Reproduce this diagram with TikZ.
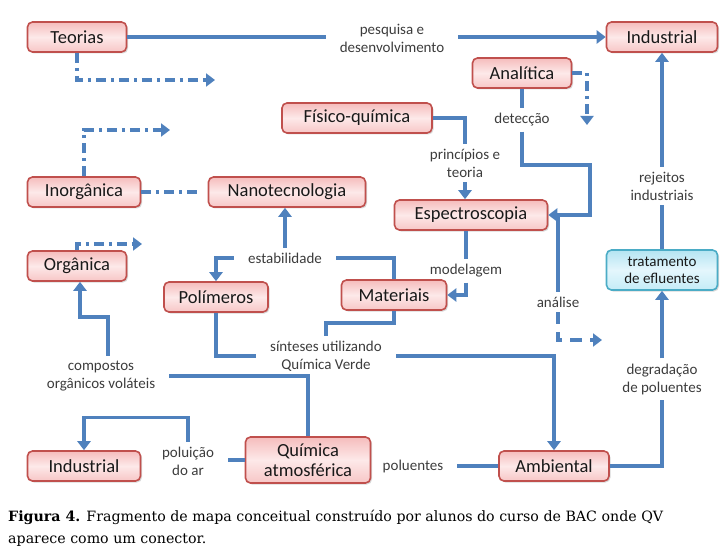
\documentclass[tikz,border=0pt]{standalone}
\usepackage{fontspec}
\setmainfont{Carlito}
\newfontfamily\legendafont{DejaVu Serif}
\usepackage{xcolor}
\usepackage{tikz}
\usetikzlibrary{arrows.meta,shadows}

\definecolor{azul}{RGB}{79,129,189}
\definecolor{bordo}{RGB}{192,80,77}
\definecolor{rosaA}{RGB}{245,188,188}
\definecolor{rosaB}{RGB}{253,233,233}
\definecolor{rosaC}{RGB}{247,198,198}
\definecolor{ciano}{RGB}{75,172,198}
\definecolor{cianoA}{RGB}{180,228,242}
\definecolor{cianoB}{RGB}{228,246,252}
\definecolor{cianoC}{RGB}{196,236,247}
\definecolor{texto}{RGB}{60,60,60}

\begin{document}
\begin{tikzpicture}[x=1pt, y=-1pt,
	conceito/.style={draw=bordo, line width=1.6pt, rounded corners=5pt, top color=rosaA, bottom color=rosaC, middle color=rosaB, minimum height=30pt, inner sep=2pt, align=center, text=black!90, font=\fontsize{18.5}{20}\selectfont, drop shadow={shadow xshift=1.5pt, shadow yshift=-1.5pt, opacity=.3}},
	tratbox/.style={conceito, draw=ciano, top color=cianoA, bottom color=cianoC, middle color=cianoB, minimum height=40pt, font=\fontsize{15}{17}\selectfont},
	rotulo/.style={align=center, inner xsep=14pt, inner ysep=5pt, text=texto, font=\fontsize{15}{18}\selectfont},
	liga/.style={draw=azul, line width=3.5pt},
	seta/.style={liga, -{Triangle[length=9pt,width=13pt]}},
	ponto/.style={liga, dash pattern=on 10pt off 5pt on 3pt off 5pt},
	pontoseta/.style={ponto, -{Triangle[length=9pt,width=13pt]}},
	tracoseta/.style={liga, dash pattern=on 12pt off 8pt, -{Triangle[length=9pt,width=13pt]}}]
	\useasboundingbox (0,0) rectangle (728,556);
	% conceitos
	\node[conceito, minimum width=99pt] (teorias) at (77,37) {Teorias};
	\node[conceito, minimum width=111pt] (indtopo) at (662,37) {Industrial};
	\node[conceito, minimum width=99pt] (analitica) at (522,73) {Analítica};
	\node[conceito, minimum width=150pt] (fisico) at (357,118) {Físico-química};
	\node[conceito, minimum width=113pt] (inorganica) at (84,192) {Inorgânica};
	\node[conceito, minimum width=157pt] (nano) at (287,192) {Nanotecnologia};
	\node[conceito, minimum width=153pt] (espectro) at (471,215) {Espectroscopia};
	\node[conceito, minimum width=99pt] (organica) at (77,266) {Orgânica};
	\node[tratbox, minimum width=111pt] (tratamento) at (662,270) {tratamento\\de efluentes};
	\node[conceito, minimum width=104pt] (polimeros) at (216,297) {Polímeros};
	\node[conceito, minimum width=105pt] (materiais) at (394,295) {Materiais};
	\node[conceito, minimum width=113pt] (indbase) at (84,466) {Industrial};
	\node[conceito, minimum width=125pt, minimum height=46pt] (quimatm) at (308,460) {Química\\atmosférica};
	\node[conceito, minimum width=110pt] (ambiental) at (554,466) {Ambiental};
	% rotulos
	\node[rotulo] (pesquisa) at (392,38) {pesquisa e\\desenvolvimento};
	\node[rotulo] (deteccao) at (522,120) {detecção};
	\node[rotulo] (principios) at (465,163) {princípios e\\teoria};
	\node[rotulo] (estabilidade) at (285,258) {estabilidade};
	\node[rotulo] (modelagem) at (466,271) {modelagem};
	\node[rotulo] (rejeitos) at (662,186) {rejeitos\\industriais};
	\node[rotulo] (analise) at (558,302) {análise};
	\node[rotulo] (sinteses) at (326,356) {sínteses utilizando\\Química Verde};
	\node[rotulo] (compostos) at (101,376) {compostos\\orgânicos voláteis};
	\node[rotulo] (degradacao) at (662,379) {degradação\\de poluentes};
	\node[rotulo] (poluicao) at (188,461) {poluição\\do ar};
	\node[rotulo] (poluentes) at (413,466) {poluentes};
	% pontas soltas
	\coordinate (fimteorias) at (215,80);
	\coordinate (fimanalitica) at (587,125);
	\coordinate (fiminorganica) at (170,130);
	\coordinate (fimorganica) at (142,244);
	\coordinate (fimanalise) at (602,340);
	\coordinate (dobra) at (80,317);
	% ligacoes
	\draw[liga] (teorias.east) -- (pesquisa.west |- teorias.east);
	\draw[seta] (pesquisa.east |- indtopo.west) -- (indtopo.west);
	\draw[pontoseta] (teorias.south) |- (fimteorias);
	\draw[pontoseta] (analitica.east) -| (fimanalitica);
	\draw[liga] (analitica.south) -- (deteccao.north);
	\draw[seta] (deteccao.south) |- (590,165) |- (espectro.east);
	\draw[liga] (fisico.east) -| (principios.north);
	\draw[seta] (principios.south) -- (principios.south |- espectro.north);
	\draw[liga] (modelagem.north |- espectro.south) -- (modelagem.north);
	\draw[seta] (modelagem.south) |- (materiais.east);
	\draw[liga] (espectro.east -| analise.north) -- (analise.north);
	\draw[tracoseta] (analise.south) |- (fimanalise);
	\draw[liga] (materiais.north) |- (estabilidade.east);
	\draw[seta] (estabilidade.west) -| (polimeros.north);
	\draw[seta] (estabilidade.north) -- (estabilidade.north |- nano.south);
	\draw[liga] (polimeros.south) |- (sinteses.west);
	\draw[liga] (materiais.south) -- ++(0,12) -| (sinteses.north);
	\draw[seta] (sinteses.east) -| (ambiental.north);
	\draw[liga] (quimatm.north) |- (compostos.east);
	\draw[seta] ([xshift=7pt]compostos.north) |- (dobra) -- (dobra |- organica.south);
	\draw[liga] (quimatm.west) -- (poluicao.east |- quimatm.west);
	\draw[seta] (poluicao.north) -- ++(0,-24) -| (indbase.north);
	\draw[liga] (poluentes.east) -- (ambiental.west);
	\draw[liga] (ambiental.east) -| (degradacao.south);
	\draw[seta] (degradacao.north) -- (tratamento.south);
	\draw[liga] (tratamento.north) -- (rejeitos.south);
	\draw[seta] (rejeitos.north) -- (indtopo.south);
	\draw[ponto, shorten >=8pt] (inorganica.east) -- (nano.west);
	\draw[pontoseta] (inorganica.north) |- (fiminorganica);
	\draw[pontoseta] (organica.north) |- (fimorganica);
	% legenda
	\node[anchor=north west, align=left, inner sep=0pt, font=\legendafont\fontsize{14.2}{22}\selectfont] (legenda) at (8,510) {\textbf{Figura 4.} Fragmento de mapa conceitual construído por alunos do curso de BAC onde QV\\aparece como um conector.};
\end{tikzpicture}
\end{document}
